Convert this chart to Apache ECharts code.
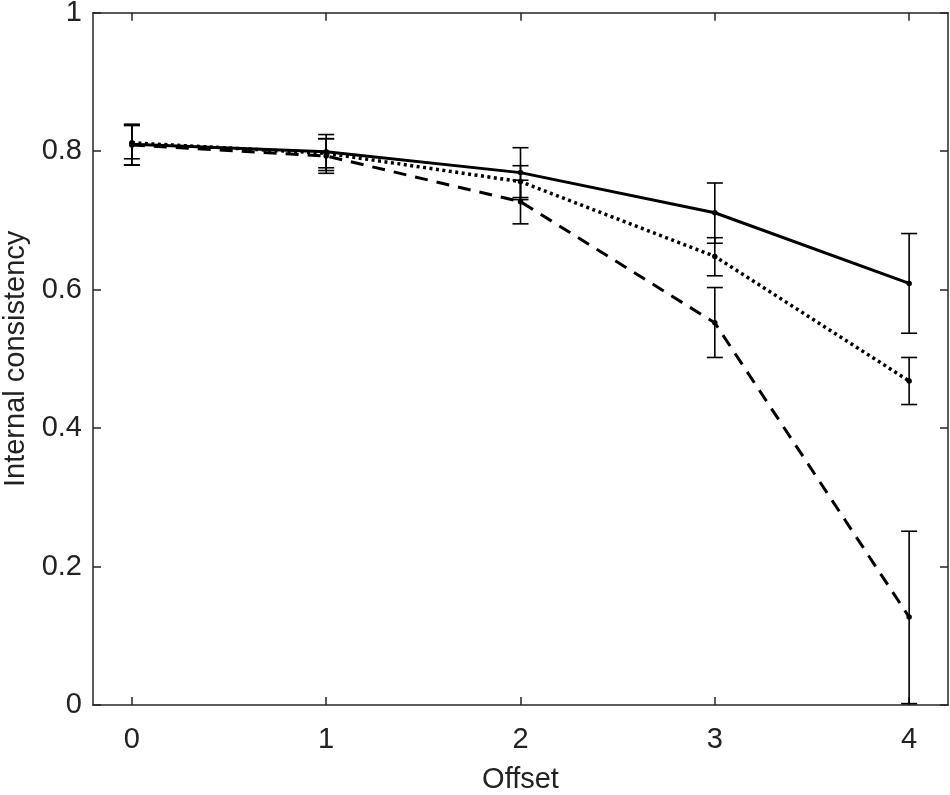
<!DOCTYPE html>
<html>
<head>
<meta charset="utf-8">
<script src="https://cdn.jsdelivr.net/npm/echarts@6/dist/echarts.min.js"></script>
<style>html,body{margin:0;padding:0;background:#fff;}#c{width:950px;height:795px;}</style>
</head>
<body>
<div id="c"></div>
<script>
const offsets = [0, 1, 2, 3, 4];
const xTicks = [0, 1, 2, 3, 4];
const solidMean  = [0.810, 0.799, 0.769, 0.711, 0.609];
const solidLow   = [0.780, 0.772, 0.730, 0.667, 0.537];
const solidHigh  = [0.838, 0.824, 0.805, 0.754, 0.681];
const dottedMean = [0.812, 0.797, 0.756, 0.648, 0.468];
const dottedLow  = [0.789, 0.776, 0.733, 0.620, 0.434];
const dottedHigh = [0.837, 0.818, 0.779, 0.675, 0.502];
const dashedMean = [0.809, 0.793, 0.727, 0.552, 0.127];
const dashedLow  = [0.780, 0.768, 0.695, 0.502, 0.002];
const dashedHigh = [0.839, 0.818, 0.758, 0.603, 0.251];

const FONT = 'Liberation Sans, Arial, sans-serif';
const AX = '#262626';

function pairs(ys) { return offsets.map((x, i) => [x, ys[i]]); }
function bars(lo, hi) { return offsets.map((x, i) => [x, lo[i], hi[i]]); }

function errRender(params, api) {
  const x = api.value(0);
  const p1 = api.coord([x, api.value(1)]);
  const p2 = api.coord([x, api.value(2)]);
  const w = 8;
  const st = { stroke: '#000', lineWidth: 1.6 };
  return {
    type: 'group',
    children: [
      { type: 'line', shape: { x1: p1[0], y1: p1[1], x2: p2[0], y2: p2[1] }, style: st },
      { type: 'line', shape: { x1: p1[0] - w, y1: p1[1], x2: p1[0] + w, y2: p1[1] }, style: st },
      { type: 'line', shape: { x1: p2[0] - w, y1: p2[1], x2: p2[0] + w, y2: p2[1] }, style: st }
    ]
  };
}

function lineSeries(ys, type) {
  return {
    type: 'line', data: pairs(ys), xAxisIndex: 0, yAxisIndex: 0,
    symbol: 'circle', symbolSize: 5.5, showSymbol: true,
    itemStyle: { color: '#000' },
    lineStyle: { color: '#000', width: type === 'dotted' ? 3.5 : 3, type: type === 'dotted' ? [3, 3.5] : (type === 'dashed' ? [13, 9] : 'solid') },
    z: 3, animation: false
  };
}
function errSeries(lo, hi) {
  return { type: 'custom', data: bars(lo, hi), renderItem: errRender, xAxisIndex: 0, yAxisIndex: 0, z: 2, animation: false, encode: { x: 0, y: [1, 2] } };
}

const chart = echarts.init(document.getElementById('c'));
const tickStyle = { show: true, inside: true, length: 8, lineStyle: { color: AX, width: 1.5 } };
const lineStyleAx = { show: true, onZero: false, lineStyle: { color: AX, width: 1.5 } };
chart.setOption({
  backgroundColor: '#fff',
  animation: false,
  grid: { left: 93, right: 2, top: 12.7, bottom: 90, containLabel: false, outerBoundsMode: 'none' },
  xAxis: [
    {
      type: 'value', min: -0.2, max: 4.2, position: 'bottom',
      name: 'Offset', nameLocation: 'middle', nameGap: 60,
      nameTextStyle: { fontFamily: FONT, fontSize: 29, color: '#222' },
      axisLine: lineStyleAx,
      axisTick: Object.assign({ customValues: xTicks }, tickStyle),
      axisLabel: { customValues: xTicks, fontFamily: FONT, fontSize: 29, color: '#222', margin: 20 },
      splitLine: { show: false }
    },
    {
      type: 'value', min: -0.2, max: 4.2, position: 'top',
      axisLine: lineStyleAx,
      axisTick: Object.assign({ customValues: xTicks }, tickStyle),
      axisLabel: { show: false }, splitLine: { show: false }
    }
  ],
  yAxis: [
    {
      type: 'value', min: 0, max: 1, interval: 0.2, position: 'left',
      name: 'Internal consistency', nameLocation: 'middle', nameGap: 57,
      nameTextStyle: { fontFamily: FONT, fontSize: 29, color: '#222' },
      axisLine: lineStyleAx,
      axisTick: tickStyle,
      axisLabel: { fontFamily: FONT, fontSize: 29, color: '#222', margin: 11 },
      splitLine: { show: false }
    },
    {
      type: 'value', min: 0, max: 1, interval: 0.2, position: 'right',
      axisLine: lineStyleAx,
      axisTick: tickStyle,
      axisLabel: { show: false }, splitLine: { show: false }
    }
  ],
  series: [
    errSeries(solidLow, solidHigh),
    errSeries(dottedLow, dottedHigh),
    errSeries(dashedLow, dashedHigh),
    lineSeries(solidMean, 'solid'),
    lineSeries(dottedMean, 'dotted'),
    lineSeries(dashedMean, 'dashed')
  ]
});
</script>
</body>
</html>
